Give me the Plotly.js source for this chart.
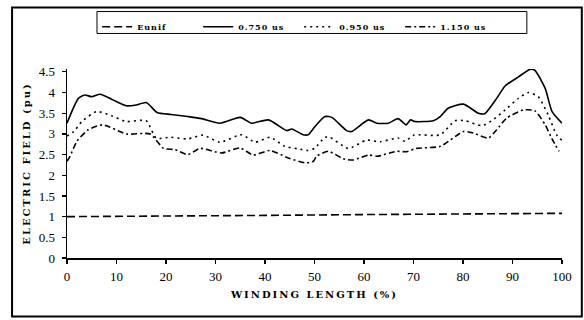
<!DOCTYPE html>
<html>
<head>
<meta charset="utf-8">
<script src="https://cdn.plot.ly/plotly-3.0.1.min.js"></script>
<style>
html,body{margin:0;padding:0;background:#fff;}
#chart{width:584px;height:320px;}
.g-xtitle text,.g-ytitle text{letter-spacing:2px;}
.legendtext{letter-spacing:1px;}
</style>
</head>
<body>
<div id="chart"></div>
<script>
// Eunif
var xEunif = [0, 20, 40, 60, 80, 100];
var yEunif = [1.0, 1.01, 1.03, 1.05, 1.06, 1.08];

// 0.750 us
var x750 = [0,2.3,3.6,5,6.7,9,12,14,16,18.2,21,24.4,27.2,30.9,35,37.3,40.7,44.4,45.4,47.7,48.7,50.1,52.1,53.5,56.5,57.5,60.9,62.6,64.9,66.9,68.5,69.4,70.3,74,75.4,77,80.1,83.1,84.4,86.8,88.5,91.2,93.5,94.5,96.6,98,100];
var y750 = [3.26,3.86,3.94,3.90,3.96,3.84,3.68,3.70,3.76,3.52,3.47,3.42,3.37,3.26,3.40,3.26,3.34,3.08,3.12,2.98,2.98,3.18,3.42,3.40,3.08,3.06,3.34,3.26,3.26,3.37,3.22,3.34,3.30,3.32,3.42,3.62,3.72,3.50,3.49,3.86,4.16,4.38,4.56,4.54,4.10,3.54,3.26];

// 0.950 us
var x950 = [0,1.4,3,6,9,12,16,18,21,24.4,27.5,30.9,35.3,38,41,44,46.7,48.7,50.1,52.1,53.1,56.8,60.5,63.2,66.9,68.3,70,75.4,78.4,80.4,83.8,85.8,88.5,91.2,93.2,95.2,97.2,98.9,100];
var y950 = [2.95,3.06,3.30,3.54,3.44,3.30,3.32,2.90,2.92,2.88,2.97,2.80,2.98,2.80,2.92,2.70,2.64,2.60,2.66,2.92,2.92,2.65,2.85,2.81,2.90,2.82,2.97,2.98,3.32,3.32,3.20,3.32,3.58,3.86,4.00,3.90,3.46,2.98,2.84];

// 1.150 us
var x1150 = [0,0.6,2,4.3,7.2,12,16.8,19.5,21.8,24.4,26.9,31.2,35,37.6,41,44.7,48.1,49.8,50.4,52.8,55.8,57.8,60.9,62.6,66.6,68.6,70.6,75.4,80.1,82.1,85.1,86.8,88.8,92.2,94.5,96.6,97.9,99.4];
var y1150 = [2.34,2.46,2.82,3.10,3.22,3.00,3.00,2.65,2.62,2.50,2.65,2.54,2.66,2.49,2.60,2.42,2.30,2.34,2.46,2.58,2.40,2.37,2.49,2.46,2.58,2.57,2.65,2.70,3.06,3.02,2.90,3.10,3.38,3.58,3.56,3.22,2.90,2.58];

var names = ['Eunif', '0.750 us', '0.950 us', '1.150 us'];
var yTicks = [0, 0.5, 1, 1.5, 2, 2.5, 3, 3.5, 4, 4.5];
var xTicks = [0, 10, 20, 30, 40, 50, 60, 70, 80, 90, 100];

function tr(x, y, name, dash, shape) {
  return {x: x, y: y, name: name, type: 'scatter', mode: 'lines', cliponaxis: false,
    line: {color: '#000', width: 1.6, dash: dash, shape: shape, smoothing: 0.6}};
}
var data = [
  tr(xEunif, yEunif, names[0], '8px,4px', 'linear'),
  tr(x750, y750, names[1], 'solid', 'spline'),
  tr(x950, y950, names[2], '2px,4px', 'spline'),
  tr(x1150, y1150, names[3], '6px,3px,2px,3px', 'spline')
];

var tickFont = {family: 'Liberation Serif', size: 13, color: '#000'};
var titleFont = {family: 'DejaVu Serif', size: 10, color: '#000', weight: 'bold'};

var layout = {
  width: 584, height: 320,
  margin: {l: 67, r: 22, t: 67, b: 62, pad: 0},
  paper_bgcolor: '#fff', plot_bgcolor: '#fff',
  showlegend: true,
  legend: {
    orientation: 'h', x: 0.061, xanchor: 'left', y: 1.30, yanchor: 'top',
    borderwidth: 0, bgcolor: 'rgba(0,0,0,0)',
    font: {family: 'DejaVu Serif', size: 8, color: '#000', weight: 'bold'},
    traceorder: 'normal', entrywidth: 56, entrywidthmode: 'pixels'
  },
  xaxis: {
    range: [0, 100], tickvals: xTicks, ticktext: xTicks.map(String),
    showline: true, linecolor: '#000', linewidth: 1.5, showgrid: false, zeroline: false,
    ticks: 'outside', ticklen: 4, tickwidth: 1.2, tickcolor: '#000',
    tickfont: tickFont, ticklabelstandoff: 2,
    title: {text: 'WINDING LENGTH (%)', font: titleFont, standoff: 8}
  },
  yaxis: {
    range: [0, 4.57], tickvals: yTicks, ticktext: yTicks.map(String),
    showline: true, linecolor: '#000', linewidth: 1.5, showgrid: false, zeroline: false,
    ticks: 'outside', ticklen: 4, tickwidth: 1.2, tickcolor: '#000',
    tickfont: tickFont, ticklabelstandoff: 4,
    title: {text: 'ELECTRIC FIELD (pu)', font: titleFont, standoff: 6}
  },
  shapes: [{
    type: 'rect', xref: 'paper', yref: 'paper',
    x0: -0.111, x1: 1.040, y0: -0.309, y1: 1.325,
    line: {color: '#000', width: 2}
  }, {
    type: 'rect', xref: 'paper', yref: 'paper',
    x0: 0.0606, x1: 0.929, y0: 1.188, y1: 1.304,
    line: {color: '#000', width: 1}
  }]
};
Plotly.newPlot('chart', data, layout, {displayModeBar: false, staticPlot: true});
</script>
</body>
</html>
